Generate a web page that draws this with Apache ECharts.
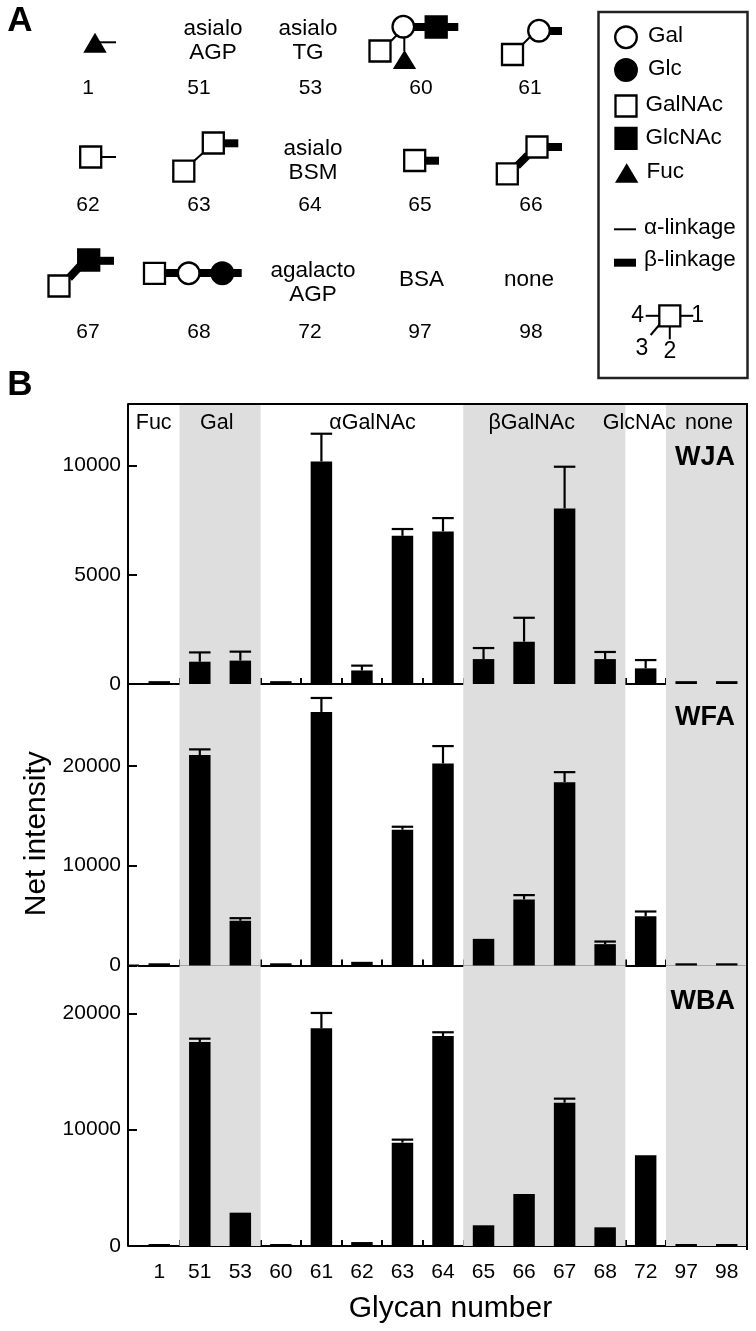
<!DOCTYPE html>
<html>
<head>
<meta charset="utf-8">
<style>html,body{margin:0;padding:0;background:#fff}#c{width:756px;height:1331px}</style>
<script src="https://cdn.jsdelivr.net/npm/echarts@6/dist/echarts.min.js"></script>
</head>
<body>
<div id="c"></div>
<script>
// ---- data ----
const categories = ['1','51','53','60','61','62','63','64','65','66','67','68','72','97','98'];
const wjaValues = [130,1020,1070,130,10180,620,6780,6980,1140,1935,8030,1140,715,130,130];
const wjaErrorTop = [null,1445,1480,null,11450,840,7090,7590,1645,3030,9940,1465,1095,null,null];
const wfaValues = [220,21080,4480,220,25400,370,13600,20240,2670,6610,18370,2140,4940,220,220];
const wfaErrorTop = [null,21650,4740,null,26800,null,13900,21980,null,7050,19370,2400,5410,null,null];
const wbaValues = [170,17540,2865,170,18710,340,8885,18050,1780,4470,12320,1605,7795,170,170];
const wbaErrorTop = [null,17820,null,null,20030,null,9140,18370,null,null,12665,null,null,null,null];
const wjaTicks = [0,5000,10000];
const wfaTicks = [0,10000,20000];
const wbaTicks = [0,10000,20000];
const shadedGroups = [['51','53'],['65','68'],['97','98']];
const groupLabels = ['Fuc','Gal','αGalNAc','βGalNAc','GlcNAc','none'];
const lectins = ['WJA','WFA','WBA'];

// ---- layout ----
const FONT = '"Liberation Sans", Arial, sans-serif';
const L = 139, R = 747, AX = 128;
const panels = [
  {name:lectins[0], top:404,   bottom:684,   max:12810, interval:5000,  ticks:wjaTicks, vals:wjaValues, errs:wjaErrorTop, labelY:458},
  {name:lectins[1], top:684,   bottom:965.5, max:28200, interval:10000, ticks:wfaTicks, vals:wfaValues, errs:wfaErrorTop, labelY:718},
  {name:lectins[2], top:965.5, bottom:1246,  max:24110, interval:10000, ticks:wbaTicks, vals:wbaValues, errs:wbaErrorTop, labelY:1002}
];
const grid=[], xAxis=[], yAxis=[], series=[];
panels.forEach((p,i)=>{
  grid.push({left:L, width:R-L, top:p.top, height:p.bottom-p.top, containLabel:false, outerBoundsMode:'none'});
  xAxis.push({
    type:'category', gridIndex:i, data:categories, boundaryGap:true,
    axisLine:{show:true, onZero:false, lineStyle:{color:'#000',width:2}},
    axisTick:{show:true, inside:true, length:6, interval:(idx)=>idx>0, lineStyle:{color:'#000',width:2}},
    axisLabel:{show:i===2, interval:0, margin:16, color:'#000', fontFamily:FONT, fontSize:21},
    name:i===2?'Glycan number':'', nameLocation:'middle', nameGap:48,
    nameTextStyle:{color:'#000',fontFamily:FONT,fontSize:30,padding:[0,0,0,15]}
  });
  yAxis.push({
    type:'value', gridIndex:i, min:0, max:p.max, interval:p.interval, offset:L-AX,
    splitLine:{show:false},
    axisLine:{show:true, lineStyle:{color:'#000',width:2}},
    axisTick:{show:true, inside:true, length:9, customValues:p.ticks, lineStyle:{color:'#000',width:2}},
    axisLabel:{show:true, margin:7, customValues:p.ticks, color:'#000', fontFamily:FONT, fontSize:21, formatter:(v)=>String(v)},
    name:i===1?'Net intensity':'', nameLocation:'middle', nameRotate:90, nameGap:71,
    nameTextStyle:{color:'#000',fontFamily:FONT,fontSize:30,padding:[0,18,0,0]}
  });
  series.push({
    type:'custom', xAxisIndex:i, yAxisIndex:i, silent:true, z:1, clip:false,
    data:shadedGroups.map(g=>[categories.indexOf(g[0]),categories.indexOf(g[1])]),
    encode:{x:[0,1]},
    renderItem:(params,api)=>{
      const w=api.size([1,0])[0], cs=params.coordSys;
      const x0=api.coord([api.value(0),0])[0]-w/2, x1=api.coord([api.value(1),0])[0]+w/2;
      return {type:'rect',shape:{x:x0,y:cs.y,width:x1-x0,height:cs.height},style:{fill:'#dedede'}};
    }
  });
  series.push({
    type:'bar', name:p.name, xAxisIndex:i, yAxisIndex:i, data:p.vals, barWidth:'53%', z:3,
    itemStyle:{color:'#000'}, silent:true
  });
  series.push({
    type:'custom', xAxisIndex:i, yAxisIndex:i, silent:true, z:4, clip:false,
    data:p.errs.map((e,k)=>[k,p.vals[k],e]).filter(d=>d[2]!==null),
    encode:{x:0,y:[1,2]},
    renderItem:(params,api)=>{
      const a=api.coord([api.value(0),api.value(1)]), b=api.coord([api.value(0),api.value(2)]);
      const hw=api.size([1,0])[0]*0.53/2;
      const s={stroke:'#000',lineWidth:2.2,fill:null};
      return {type:'group',children:[
        {type:'line',shape:{x1:a[0],y1:a[1],x2:a[0],y2:b[1]},style:s},
        {type:'line',shape:{x1:a[0]-hw,y1:b[1],x2:a[0]+hw,y2:b[1]},style:s}
      ]};
    }
  });
});

// ---- annotation helpers (panel A glycan sketches, frame, labels) ----
const g=[];
const txt=(t,x,y,size=21,opt={})=>g.push({type:'text',x,y,silent:true,z:20,style:{text:t,fill:'#000',font:`${opt.bold?'bold ':''}${size}px ${FONT}`,textAlign:opt.align||'center',textVerticalAlign:'middle'}});
const line=(x1,y1,x2,y2,w=2)=>g.push({type:'line',silent:true,z:18,shape:{x1,y1,x2,y2},style:{stroke:'#000',lineWidth:w}});
const a=(x1,y1,x2,y2)=>line(x1,y1,x2,y2,2);
const b=(x1,y1,x2,y2)=>line(x1,y1,x2,y2,8);
const sq=(cx,cy,fill)=>g.push({type:'rect',silent:true,z:19,shape:{x:cx-10.5,y:cy-10.5,width:21,height:21},style:{fill:fill?'#000':'#fff',stroke:'#000',lineWidth:2.3}});
const ci=(cx,cy,fill)=>g.push({type:'circle',silent:true,z:19,shape:{cx,cy,r:10.8},style:{fill:fill?'#000':'#fff',stroke:'#000',lineWidth:2.3}});
const tri=(cx,base,apex)=>g.push({type:'polygon',silent:true,z:19,shape:{points:[[cx-11.7,base],[cx+11.7,base],[cx,apex]]},style:{fill:'#000'}});

// panel letters
txt('A',20,21,35,{bold:true});
txt('B',20,385,35,{bold:true});

// number row
[['1',88,88],['51',199,88],['53',310.5,88],['60',421,88],['61',530,88],
 ['62',88,205],['63',199,205],['64',310,205],['65',420,205],['66',531,205],
 ['67',88,332],['68',199,332],['72',310,332],['97',420,332],['98',531,332]].forEach(r=>txt(r[0],r[1],r[2],21));
// named glycans
txt('asialo',213,29,22.5);txt('AGP',213,53,22.5);
txt('asialo',308,29,22.5);txt('TG',308,53,22.5);
txt('asialo',313,149,22.5);txt('BSM',313,173,22.5);
txt('agalacto',313,271,22.5);txt('AGP',313,295,22.5);
txt('BSA',421.5,280,22.5);txt('none',529,280,22.5);

// glycan 1
tri(95,52.7,32.7);a(100,42.3,116,42.3);
// glycan 60
a(391,41,397,35);a(404.3,36,404.3,51);b(412,27,426,27);b(446,27,458.3,27);
sq(380,51);ci(403.3,26.7);sq(436.2,27,true);tri(404.5,69,50);
// glycan 61
a(522,45,530,37);b(549,31,562,31);sq(512.5,54.5);ci(539,30.7);
// glycan 62
a(101,157,116,157);sq(90.7,157);
// glycan 63
a(194,161,204,152);b(223,143.3,238.3,143.3);sq(183.8,171.2);sq(213.3,143);
// glycan 65
b(425,160.7,439,160.7);sq(414.7,160.5);
// glycan 66
b(517,166,528,155);b(547,147,562,147);sq(507.3,173.8);sq(537,147);
// glycan 67
b(69,278,82,264);b(99,260.8,114,260.8);sq(59,286);sq(88.7,260,true);
// glycan 68
b(164,273,178,273);b(198,273,213,273);b(230,273,241.7,273);
sq(154.5,273.3);ci(188.7,273.3);ci(222.3,273.3,true);

// legend box
g.push({type:'rect',silent:true,z:17,shape:{x:598.5,y:12,width:149,height:366},style:{fill:'#fff',stroke:'#222',lineWidth:2.5}});
ci(626,37.3);txt('Gal',648,35.5,22.5,{align:'left'});
ci(626,70,true);txt('Glc',648,69,22.5,{align:'left'});
sq(626,106);txt('GalNAc',645.5,105,22.5,{align:'left'});
sq(626,138.3,true);txt('GlcNAc',645.5,138,22.5,{align:'left'});
tri(626.7,182.7,163.3);txt('Fuc',646.5,171.5,22.5,{align:'left'});
a(614,229.3,636,229.3);txt('α-linkage',644,228,22.5,{align:'left'});
b(614,262.7,636,262.7);txt('β-linkage',644,260,22.5,{align:'left'});
// linkage position key
a(645.7,315.8,660,315.8);a(680,315.8,693.3,315.8);a(669.8,326,669.8,339.3);a(660,324,650.7,335);
sq(669.8,315.8);
txt('4',637.7,316,23);txt('1',697.7,316,23);txt('3',642,349,23);txt('2',670,352,23);

// frame of panel B
g.push({type:'polyline',silent:true,z:10,shape:{points:[[AX,404],[R,404],[R,1250]]},style:{stroke:'#000',lineWidth:2,fill:null}});
panels.forEach(p=>line(AX,p.bottom,L,p.bottom,2));

// group captions
const groupX=[153.7,216.7,372.5,531.7,639.3,709];
groupLabels.forEach((t,i)=>txt(t,groupX[i],423,21.5));
// lectin names
panels.forEach(p=>txt(p.name,735,p.labelY,27,{bold:true,align:'right'}));

const chart=echarts.init(document.getElementById('c'),null,{renderer:'canvas'});
chart.setOption({animation:false,backgroundColor:'#fff',grid,xAxis,yAxis,series,graphic:{elements:g}});
</script>
</body>
</html>
